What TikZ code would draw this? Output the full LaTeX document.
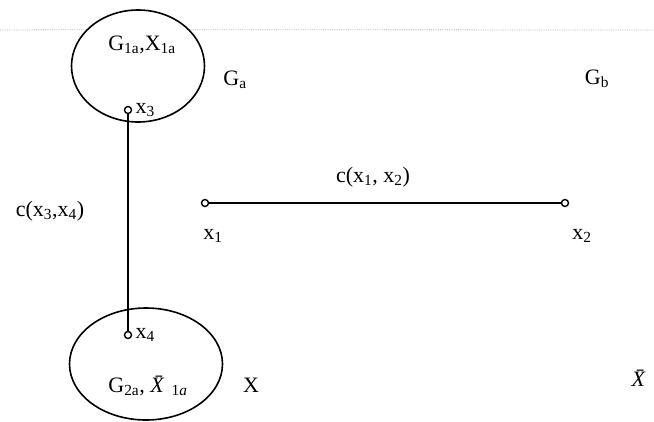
\documentclass[tikz,border=0pt]{standalone}
\usepackage{fontspec}
\setmainfont{Liberation Serif}
\usetikzlibrary{shapes.geometric, positioning}

\begin{document}
\begin{tikzpicture}[x=1pt, y=-1pt, thick,
    vertex/.style={circle, draw, line width=1.4pt, inner sep=0pt, minimum size=7pt},
    edge/.style={line width=1.6pt},
    region/.style={ellipse, draw, line width=1.6pt, inner sep=0pt},
    lbl/.style={font=\fontsize{22}{26}\selectfont, inner sep=1pt}]
    \useasboundingbox (0,0) rectangle (654,421);
    % Regions
    \node[region, minimum width=133pt, minimum height=112pt] (Gtop) at (138,66) {};
    \node[region, minimum width=153pt, minimum height=112pt] (Gbot) at (146,364) {};
    % Scan line
    \draw[gray!60, densely dotted] (0,30) -- (Gtop.145);
    \draw[gray!60, densely dotted] (Gtop.35) -- (654,30);
    % Vertices
    \node[vertex] (x3) at (128,110) {};
    \node[vertex] (x4) at (128,335) {};
    \node[vertex] (x1) at (205,203) {};
    \node[vertex] (x2) at (565,203) {};
    % Edges
    \draw[edge] (x3) -- (x4);
    \draw[edge] (x1) -- (x2);
    % Labels
    \node[lbl] (lGtop) at (142,45) {G\textsubscript{1a},X\textsubscript{1a}};
    \node[lbl] (lGbot) at (148,386) {G\textsubscript{2a}, \textit{\=X}\textsubscript{\,1\textit{a}}};
    \node[lbl, right=2pt of x3] (lx3) {x\textsubscript{3}};
    \node[lbl, right=2pt of x4] (lx4) {x\textsubscript{4}};
    \node[lbl] (lx1) at (213,236) {x\textsubscript{1}};
    \node[lbl] (lx2) at (582,236) {x\textsubscript{2}};
    \node[lbl] (c12) at (373,177) {c(x\textsubscript{1}, x\textsubscript{2})};
    \node[lbl] (c34) at (50,211) {c(x\textsubscript{3},x\textsubscript{4})};
    \node[lbl] (Ga) at (235,80) {G\textsubscript{a}};
    \node[lbl] (Gb) at (597,79) {G\textsubscript{b}};
    \node[lbl] (X) at (251,385) {X};
    \node[lbl] (Xbar) at (641,378) {\textit{\=X}};
\end{tikzpicture}
\end{document}
